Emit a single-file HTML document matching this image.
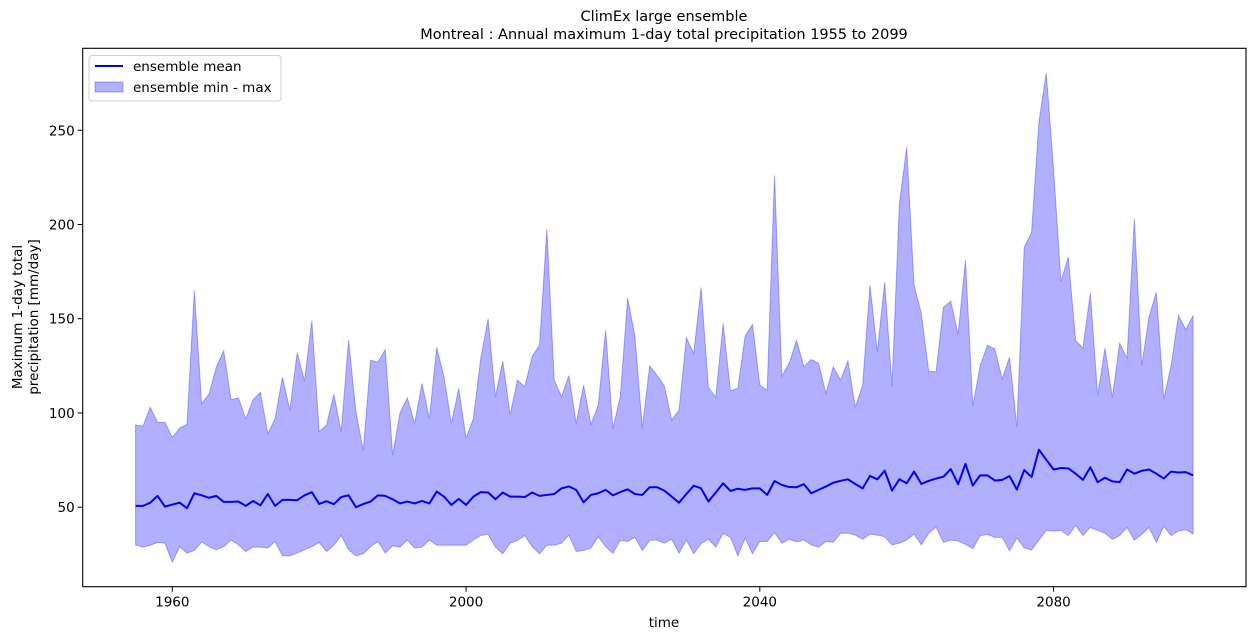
<!DOCTYPE html>
<html><head><meta charset="utf-8"><style>
body{margin:0;background:#fff;}
svg{display:block;font-family:"DejaVu Sans","Liberation Sans",sans-serif;}
</style></head><body>
<svg id="chart" width="1254" height="640" viewBox="0 0 1254 640" xmlns="http://www.w3.org/2000/svg">
<text x="664" y="21" text-anchor="middle" font-size="14.5">ClimEx large ensemble</text>
<text x="664" y="39" text-anchor="middle" font-size="14.5">Montreal : Annual maximum 1-day total precipitation 1955 to 2099</text>
<g id="plot"></g>
<g id="axes"></g>
<text x="664" y="627" text-anchor="middle" font-size="13.5">time</text>
<g transform="translate(22,317) rotate(-90)">
<text x="0" y="0" text-anchor="middle" font-size="13.5">Maximum 1-day total</text>
<text x="0" y="16" text-anchor="middle" font-size="13.5">precipitation [mm/day]</text>
</g>
<g>
<rect x="89" y="55.5" width="192" height="45.5" rx="3" fill="#fff" fill-opacity="0.8" stroke="#d0d0d0"/>
<line x1="95" y1="66" x2="123" y2="66" stroke="#0000ff" stroke-width="2"/>
<text x="133" y="71" font-size="13.5">ensemble mean</text>
<rect x="95" y="82" width="28" height="10" fill="rgba(0,0,255,0.3)" stroke="rgba(0,0,255,0.3)"/>
<text x="133" y="92" font-size="13.5">ensemble min - max</text>
</g>
</svg>
<script>
const startYear = 1955;
const maxVals = [93.6,93,103,95,95,87,92,94,165,105,110,124.5,133,107,108,97,107,111,89,97,119,101.5,132,117,149,90,93.6,110,90,138.6,100.7,80,128,
127,133.6,77.7,100,108,94.5,115.7,97,134.8,119,94.5,113,86.6,97,129,150,108.6,127.5,99,117.5,114,130,136,197.5,117.5,108.6,119.8,94.5,114.8,94,104,144,91.8,108.6,161,140.5,91.8,125,120,
114.4,96.3,101.5,140,131.6,166.6,113.6,108.3,147.5,111.8,113,140.8,147,114.8,112,226,119.6,126.3,138.6,124.5,128.4,126.3,110.4,124.5,117.5,127.7,103,114.8,167.8,132.5,169.5,114.2,211,241,167.8,152.8,121.9,121.9,156,
159.4,141.7,181.2,103.7,125.1,135.9,134,118,129.7,92.5,187.9,195.7,254.3,280.5,229.2,169.7,182.7,138.5,134.4,163.6,109.3,134.4,108.3,137.1,128.8,203.1,125.1,151.1,164.1,107.4,125.1,151.7,144.2,151.7];
const meanVals = [50.7,50.7,52.4,56,50.3,51.4,52.4,49.5,57.4,56.3,55,56,52.8,52.8,53,50.7,53.3,51,57,50.7,53.9,53.9,53.7,56.3,58,51.7,53.2,51.6,55.4,56.3,50,51.7,53,
56.3,56,54.2,52,53,52,53.3,52,58.3,55.6,51.2,54.4,51.2,55.6,58,57.8,54.2,57.8,55.6,55.6,55.4,57.8,56,56.5,57,60,61,59.2,52.6,56.5,57.4,59.2,56.3,58,59.5,57,56.5,60.6,60.6,
58.8,55.6,52.4,57,61.4,60,53,57.8,62.7,58.6,59.8,59.2,60,60,56.5,63.9,61.8,60.7,60.6,62.2,57.4,59.2,61,63,64,64.8,62.3,60,66.6,64.8,69.4,58.8,64.8,62.7,68.9,62.3,64,65.2,66.2,
70.2,62.2,73,61.5,66.9,66.9,64.1,64.5,66.5,59.4,69.7,66,80.5,75.2,70,70.8,70.6,67.8,64.5,71.2,63.3,65.6,63.7,63.3,70,67.8,69.3,70,67.8,65.2,68.9,68.4,68.6,66.9];
const minVals = [30,28.8,29.8,31.3,30.9,20.8,29.1,25.6,27,31.6,29,27.4,29,32.6,30,26.5,28.8,28.8,28.3,31.8,24.2,24.2,25.6,27.4,29,31.3,26.5,29.8,35,27.4,24.2,25.3,29,
31.8,25.6,29.5,28.8,32.6,28.3,28.8,32.6,29.8,29.8,29.8,29.8,29.8,32.6,35,35.7,28.8,25.3,30.9,32.3,35,29,25.3,29.8,29.8,30.9,35.2,26.5,27,28.3,34.3,29,25.6,32.3,31.8,34,27,32.3,32.6,
30.9,33,25.6,32.6,25.3,30.6,33,28.8,36.2,34,24.2,33.5,25.3,31.8,31.8,36.5,30.9,33,31.6,32.6,30,28.8,31.8,31.4,36.2,36.2,35.2,33,35.7,35.2,34.3,30,30.9,32.6,35.7,30,36.2,39.4,31.3,
32.5,32.1,30.3,28,34.9,35.5,34,34,26.9,33.6,28.4,27.3,32.5,37.7,37.3,37.7,34.9,40.3,34.9,39.2,37.7,36.2,33,34.9,39.2,32.5,35.5,39.2,31.2,39.9,34.9,37.3,38.1,35.8];
const xTicks = [1960,2000,2040,2080];
const yTicks = [50,100,150,200,250];

const NS = "http://www.w3.org/2000/svg";
const L = 82.7, R = 1246, T = 48.3, B = 586.7;
const years = maxVals.map((_, i) => startYear + i);
const allVals = maxVals.concat(minVals);
const vmin = Math.min(...allVals), vmax = Math.max(...allVals);
const ypad = (vmax - vmin) * 0.05;
const y0 = vmin - ypad, y1 = vmax + ypad;
const xa = years[0], xb = years[years.length - 1], xpad = (xb - xa) * 0.05;
function xs(v){ return L + (v - (xa - xpad)) / ((xb + xpad) - (xa - xpad)) * (R - L); }
function ys(v){ return B - (v - y0) / (y1 - y0) * (B - T); }
function mk(tag, attrs, parent){ const e = document.createElementNS(NS, tag); for (const k in attrs) e.setAttribute(k, attrs[k]); parent.appendChild(e); return e; }

const plot = document.getElementById('plot');
const axes = document.getElementById('axes');
let d = years.map((yr, i) => (i ? 'L' : 'M') + xs(yr).toFixed(2) + ',' + ys(maxVals[i]).toFixed(2)).join('');
for (let i = years.length - 1; i >= 0; i--) d += 'L' + xs(years[i]).toFixed(2) + ',' + ys(minVals[i]).toFixed(2);
d += 'Z';
const band = mk('path', {d: d, fill: 'rgba(0,0,255,0.31)', stroke: 'rgba(0,0,255,0.3)', 'stroke-width': 1}, plot);


const meanPath = years.map((yr, i) => (i ? 'L' : 'M') + xs(yr).toFixed(2) + ',' + ys(meanVals[i]).toFixed(2)).join('');
const ml = mk('path', {d: meanPath, fill: 'none', stroke: '#0000ff', 'stroke-width': 2, 'stroke-linejoin': 'round'}, plot);



const frame = mk('rect', {x: L, y: T, width: R - L, height: B - T, fill: 'none', stroke: '#000', 'stroke-width': 1.1}, axes);


xTicks.forEach(t => {
  const x = xs(t);
  const tk = mk('line', {x1: x, y1: B, x2: x, y2: B + 5, stroke: '#000'}, axes);
  
  
  const lb = mk('text', {x: x, y: B + 20, 'text-anchor': 'middle', 'font-size': 13.5}, axes);
  lb.textContent = t;
  
  
});
yTicks.forEach(t => {
  const y = ys(t);
  const tk = mk('line', {x1: L - 5, y1: y, x2: L, y2: y, stroke: '#000'}, axes);
  
  
  const lb = mk('text', {x: L - 8, y: y + 5, 'text-anchor': 'end', 'font-size': 13.5}, axes);
  lb.textContent = t;
  
  
});
</script>
</body></html>
